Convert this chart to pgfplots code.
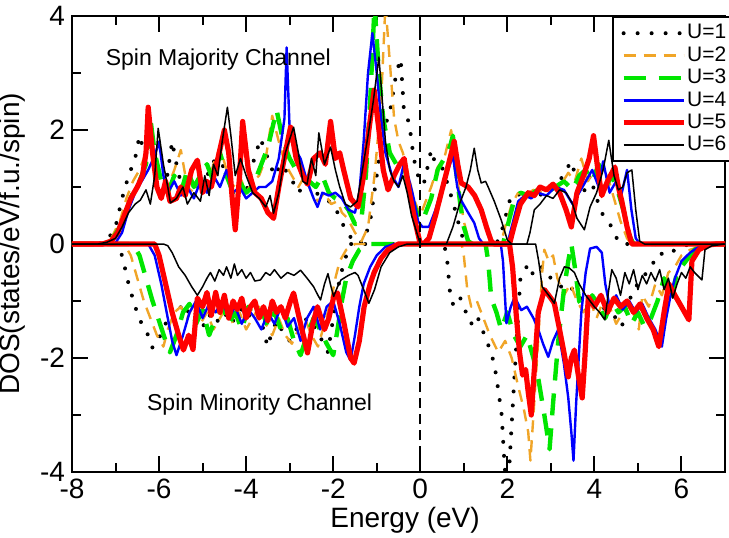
\documentclass[border=0pt]{standalone}
\usepackage{fontspec}
\setmainfont{Liberation Sans}
\usepackage{pgfplots}
\pgfplotsset{compat=1.18}
\definecolor{uorange}{RGB}{240,165,40}
\definecolor{ugreen}{RGB}{0,230,0}
\begin{document}
\begin{tikzpicture}
\useasboundingbox (-36pt,-32.5pt) rectangle (328.5pt,236pt);
\begin{axis}[at={(0,0)}, anchor=south west, scale only axis,
  width=326.5pt, height=228pt,
  xmin=-8, xmax=7, ymin=-4, ymax=4,
  xtick={-8,-6,...,6}, ytick={-4,-2,0,2,4},
  minor x tick num=1, minor y tick num=1,
  tick align=inside, major tick length=8pt, minor tick length=4.5pt,
  tick style={line width=1pt, black},
  axis line style={line width=1pt},
  every axis plot/.append style={line join=round},
  /pgf/number format/assume math mode=true,
  ticklabel style={font=\fontsize{14}{16}\selectfont},
  xlabel={Energy (eV)}, ylabel={DOS(states/eV/f.u./spin)},
  label style={font=\fontsize{14}{16}\selectfont},
  xlabel style={at={(axis description cs:0.51,-0.105)}, anchor=center},
  ylabel style={at={(axis description cs:-0.091,0.5)}, anchor=center},
  legend style={at={(rel axis cs:0.827,1)}, anchor=north west, draw=black, line width=1pt,
    fill=white, inner xsep=4pt, inner ysep=2.5pt, font=\fontsize{10.5}{12}\selectfont,
    nodes={inner sep=0.5pt, text height=7.9pt, text depth=2.3pt}, row sep=0pt},
  legend cell align=left,
  legend image code/.code={\draw[#1] (0pt,0pt) -- (30pt,0pt);},
  /tikz/every even column/.append style={column sep=3pt},
]
% U=1
\addplot[black, line width=2pt, dash pattern=on 0pt off 7pt, line cap=round] coordinates {
(-8,0) (-7.4,0) (-7.2,0.05) (-7.0,0.3) (-6.85,0.8) (-6.7,1.2) (-6.55,1.5) (-6.45,1.9) (-6.3,1.5) (-6.15,1.7) (-6.0,1.2) (-5.85,1.0) (-5.7,1.8) (-5.55,1.2) (-5.4,1.0) (-5.2,1.1) (-5.0,0.9) (-4.85,1.3) (-4.7,1.5) (-4.55,1.4) (-4.4,1.1) (-4.2,1.0) (-4.0,0.9) (-3.85,1.4) (-3.67,1.85) (-3.5,1.5) (-3.35,1.2) (-3.2,1.4) (-3.0,1.2) (-2.8,0.9) (-2.6,1.1) (-2.4,0.9) (-2.2,0.8) (-2.0,0.7) (-1.9,0.55) (-1.75,0.3) (-1.6,0.12) (-1.45,0.0) (-1.3,0.05) (-1.15,0.4) (-1.0,1.2) (-0.85,2.0) (-0.7,2.3) (-0.55,3.0) (-0.45,3.25) (-0.38,2.4) (-0.25,2.1) (-0.15,1.5) (0.0,1.05) (0.1,1.1) (0.25,1.65) (0.35,1.4) (0.5,1.35) (0.65,1.0) (0.8,0.6) (0.9,0.3) (1.0,0.05) (1.1,0) (1.75,0) (1.9,0.3) (2.05,0.75) (2.2,0.9) (2.4,0.8) (2.6,0.95) (2.8,0.85) (3.0,1.0) (3.2,1.1) (3.35,1.3) (3.47,1.45) (3.6,1.1) (3.75,0.9) (3.9,1.2) (4.05,0.8) (4.2,0.5) (4.4,0.3) (4.56,0.02) (4.7,0) (7,0)};
\addlegendentry{U=1}
\addplot[black, line width=2pt, dash pattern=on 0pt off 7pt, line cap=round, forget plot] coordinates {
(-8,0) (-7.0,0) (-6.85,-0.2) (-6.7,-0.7) (-6.55,-1.1) (-6.4,-1.4) (-6.25,-1.6) (-6.15,-1.82) (-6.0,-1.65) (-5.85,-1.4) (-5.7,-1.15) (-5.55,-1.05) (-5.4,-1.25) (-5.25,-1.1) (-5.1,-1.3) (-4.95,-1.45) (-4.8,-1.2) (-4.65,-1.35) (-4.5,-1.2) (-4.35,-1.4) (-4.2,-1.25) (-4.05,-1.1) (-3.9,-1.3) (-3.75,-1.2) (-3.6,-1.5) (-3.51,-1.8) (-3.44,-1.63) (-3.3,-1.35) (-3.15,-1.55) (-3.0,-1.7) (-2.85,-1.5) (-2.7,-1.35) (-2.55,-1.3) (-2.4,-1.5) (-2.25,-1.7) (-2.12,-1.9) (-2.0,-1.3) (-1.9,-0.8) (-1.76,-0.33) (-1.6,0) (0.55,0) (0.62,-0.3) (0.7,-1.0) (0.8,-1.1) (0.92,-0.95) (1.05,-1.2) (1.17,-1.4) (1.3,-1.25) (1.45,-1.55) (1.6,-1.85) (1.7,-2.1) (1.8,-2.6) (1.87,-3.0) (1.93,-3.8) (2.0,-4.5) (2.15,-2.5) (2.3,-0.6) (2.48,-0.35) (2.6,-0.55) (2.8,-0.4) (3.0,-0.6) (3.24,-0.75) (3.4,-0.7) (3.6,-0.9) (3.8,-1.0) (4.0,-0.95) (4.17,-1.1) (4.35,-1.2) (4.5,-1.3) (4.63,-1.45) (4.75,-1.1) (4.9,-0.8) (5.1,-0.6) (5.3,-0.4) (5.48,-0.16) (5.7,-0.2) (5.85,-0.1) (6.1,-0.02) (6.3,0) (7,0)};
% U=2
\addplot[uorange, line width=1.2pt, dash pattern=on 6pt off 4pt] coordinates {
(-8,0) (-7.3,0) (-7.1,0.1) (-6.9,0.4) (-6.75,0.8) (-6.6,1.1) (-6.45,1.3) (-6.3,1.6) (-6.2,2.1) (-6.1,1.5) (-5.95,1.2) (-5.8,1.0) (-5.65,1.3) (-5.5,1.65) (-5.35,1.0) (-5.2,0.9) (-5.05,1.2) (-4.9,1.0) (-4.75,1.4) (-4.6,1.7) (-4.45,1.3) (-4.3,1.0) (-4.15,1.2) (-4.0,0.9) (-3.85,1.1) (-3.7,1.2) (-3.55,1.5) (-3.4,2.25) (-3.25,1.8) (-3.1,1.4) (-2.95,1.2) (-2.8,1.0) (-2.65,1.2) (-2.5,0.9) (-2.35,0.75) (-2.2,0.9) (-2.05,0.7) (-1.9,0.75) (-1.8,0.55) (-1.67,0.45) (-1.5,0.2) (-1.35,0.05) (-1.2,0.3) (-1.05,1.2) (-0.9,2.5) (-0.8,4.2) (-0.7,3.2) (-0.6,2.2) (-0.5,1.8) (-0.4,1.6) (-0.3,1.3) (-0.15,0.8) (0.0,0.5) (0.1,0.7) (0.25,1.0) (0.4,1.35) (0.55,1.5) (0.71,2.0) (0.8,1.4) (0.9,0.9) (1.0,0.4) (1.1,0.1) (1.2,0) (1.85,0) (1.95,0.3) (2.1,0.7) (2.25,0.9) (2.4,0.85) (2.6,0.95) (2.8,0.9) (3.0,1.0) (3.2,1.0) (3.4,1.25) (3.55,1.1) (3.7,1.5) (3.85,1.1) (4.0,1.3) (4.15,0.9) (4.3,1.2) (4.45,0.8) (4.6,0.4) (4.75,0.1) (4.85,0) (7,0)};
\addlegendentry{U=2}
\addplot[uorange, line width=1.2pt, dash pattern=on 6pt off 4pt, forget plot] coordinates {
(-8,0) (-6.8,0) (-6.65,-0.2) (-6.5,-0.6) (-6.35,-1.0) (-6.2,-1.3) (-6.05,-1.6) (-5.9,-1.8) (-5.8,-1.5) (-5.65,-1.2) (-5.5,-1.1) (-5.35,-1.3) (-5.2,-1.05) (-5.05,-1.4) (-4.9,-1.2) (-4.75,-1.5) (-4.6,-1.3) (-4.45,-1.1) (-4.3,-1.4) (-4.15,-1.2) (-4.0,-1.5) (-3.85,-1.3) (-3.7,-1.1) (-3.55,-1.4) (-3.4,-1.6) (-3.25,-1.3) (-3.1,-1.6) (-2.95,-1.75) (-2.8,-1.5) (-2.65,-1.3) (-2.5,-1.6) (-2.35,-1.8) (-2.2,-1.4) (-2.05,-1.0) (-1.95,-0.6) (-1.85,-0.3) (-1.7,-0.1) (-1.5,0) (0.95,0) (1.0,-0.2) (1.08,-0.8) (1.17,-1.1) (1.3,-1.0) (1.45,-1.3) (1.6,-1.6) (1.79,-1.9) (1.95,-1.7) (2.1,-2.0) (2.25,-2.5) (2.38,-2.9) (2.48,-3.3) (2.53,-3.8) (2.6,-3.0) (2.7,-1.8) (2.8,-0.5) (2.85,-0.1) (2.95,-0.3) (3.05,-0.2) (3.15,-0.6) (3.3,-0.9) (3.45,-0.7) (3.6,-1.0) (3.75,-1.2) (3.9,-1.0) (4.05,-1.3) (4.2,-1.0) (4.35,-1.1) (4.5,-1.4) (4.65,-1.2) (4.8,-1.0) (5.02,-1.5) (5.1,-0.9) (5.25,-1.1) (5.4,-0.7) (5.55,-0.9) (5.7,-0.5) (5.85,-0.4) (6.0,-0.2) (6.2,-0.1) (6.4,-0.05) (6.6,0) (7,0)};
% U=3
\addplot[ugreen, line width=2.2pt, dash pattern=on 11pt off 6.5pt] coordinates {
(-8,0) (-7.3,0) (-7.1,0.05) (-6.9,0.3) (-6.75,0.6) (-6.6,0.9) (-6.45,1.1) (-6.3,1.4) (-6.2,2.2) (-6.1,1.6) (-5.95,1.1) (-5.8,0.9) (-5.65,1.2) (-5.5,0.9) (-5.35,1.3) (-5.2,1.0) (-5.05,1.2) (-4.9,1.4) (-4.75,1.1) (-4.6,1.6) (-4.45,1.2) (-4.3,0.9) (-4.15,1.1) (-4.0,0.9) (-3.85,1.0) (-3.7,1.3) (-3.5,1.7) (-3.3,2.35) (-3.15,1.8) (-3.0,1.5) (-2.85,1.3) (-2.7,1.2) (-2.55,1.1) (-2.4,1.0) (-2.25,1.2) (-2.1,0.9) (-1.95,0.8) (-1.8,0.75) (-1.65,0.6) (-1.5,0.35) (-1.36,0.37) (-1.25,1.2) (-1.15,2.5) (-1.05,4.2) (-0.95,3.0) (-0.85,2.2) (-0.7,1.6) (-0.55,1.4) (-0.4,1.5) (-0.3,1.1) (-0.15,0.7) (0.0,0.4) (0.1,0.5) (0.25,0.8) (0.4,1.3) (0.55,1.5) (0.68,1.7) (0.75,1.9) (0.82,1.3) (0.92,0.7) (1.0,0.3) (1.1,0.05) (1.2,0) (1.9,0) (2.0,0.3) (2.15,0.75) (2.3,0.9) (2.5,0.85) (2.7,0.95) (2.9,0.9) (3.1,1.0) (3.3,1.1) (3.5,0.95) (3.65,1.2) (3.8,1.3) (3.95,1.1) (4.1,1.4) (4.25,1.0) (4.4,1.2) (4.55,0.9) (4.7,0.5) (4.8,0.15) (4.9,0) (7,0)};
\addlegendentry{U=3}
\addplot[ugreen, line width=2.2pt, dash pattern=on 11pt off 6.5pt, forget plot] coordinates {
(-8,0) (-6.6,0) (-6.45,-0.2) (-6.3,-0.6) (-6.15,-1.0) (-6.0,-1.35) (-5.85,-1.7) (-5.75,-1.9) (-5.6,-1.6) (-5.45,-1.2) (-5.3,-1.05) (-5.15,-1.4) (-5.0,-1.15) (-4.85,-1.6) (-4.7,-1.3) (-4.55,-1.05) (-4.4,-1.4) (-4.25,-1.2) (-4.1,-1.5) (-3.95,-1.1) (-3.8,-1.3) (-3.65,-1.15) (-3.5,-1.45) (-3.35,-1.2) (-3.2,-1.5) (-3.05,-1.3) (-2.9,-1.7) (-2.75,-1.95) (-2.6,-1.6) (-2.45,-1.3) (-2.3,-1.5) (-2.15,-1.75) (-2.0,-1.95) (-1.9,-1.5) (-1.8,-1.0) (-1.7,-0.6) (-1.55,-0.3) (-1.4,-0.1) (-1.2,0) (1.5,0) (1.56,-0.3) (1.63,-0.95) (1.75,-1.2) (1.86,-1.5) (2.0,-1.2) (2.15,-1.6) (2.3,-1.8) (2.45,-1.6) (2.6,-2.0) (2.72,-2.4) (2.85,-3.0) (2.97,-3.6) (3.05,-2.8) (3.17,-1.7) (3.3,-0.8) (3.4,-0.3) (3.47,0) (3.55,-0.4) (3.65,-1.0) (3.8,-1.2) (3.95,-0.9) (4.1,-1.1) (4.25,-1.3) (4.4,-1.0) (4.55,-1.2) (4.7,-1.1) (4.85,-1.4) (5.0,-1.2) (5.15,-1.45) (5.3,-1.3) (5.45,-1.0) (5.6,-0.6) (5.75,-1.0) (5.9,-0.5) (6.1,-0.3) (6.3,-0.1) (6.5,-0.03) (6.7,0) (7,0)};
% U=4
\addplot[blue, line width=1.2pt] coordinates {
(-8,0) (-7.3,0) (-7.0,0.02) (-6.85,0.2) (-6.7,0.6) (-6.55,0.9) (-6.4,1.1) (-6.25,1.3) (-6.1,1.55) (-6.0,1.8) (-5.9,1.2) (-5.8,0.9) (-5.65,1.1) (-5.5,0.85) (-5.35,1.0) (-5.2,0.8) (-5.05,1.1) (-4.9,0.9) (-4.75,1.2) (-4.6,1.0) (-4.45,1.3) (-4.3,0.9) (-4.15,1.0) (-4.0,0.8) (-3.85,0.9) (-3.7,1.0) (-3.55,1.0) (-3.4,1.1) (-3.25,1.5) (-3.12,2.2) (-3.07,3.45) (-3.0,2.0) (-2.9,1.7) (-2.75,1.5) (-2.6,1.1) (-2.45,0.8) (-2.36,0.65) (-2.25,0.9) (-2.1,0.85) (-1.95,0.9) (-1.8,0.8) (-1.65,0.6) (-1.5,0.55) (-1.4,0.9) (-1.3,1.8) (-1.2,3.0) (-1.1,3.7) (-1.0,3.0) (-0.9,2.2) (-0.8,1.6) (-0.65,1.2) (-0.5,1.0) (-0.38,1.4) (-0.28,1.2) (-0.15,0.8) (-0.05,0.4) (0.05,0.3) (0.2,0.3) (0.35,0.6) (0.5,1.0) (0.64,1.3) (0.75,1.55) (0.85,1.0) (0.95,0.75) (1.1,0.55) (1.24,0.37) (1.35,0.1) (1.45,0) (2.0,0) (2.1,0.3) (2.25,0.75) (2.4,0.85) (2.55,0.8) (2.7,0.9) (2.9,0.85) (3.1,1.0) (3.3,0.95) (3.5,0.7) (3.65,0.9) (3.8,1.1) (3.95,1.3) (4.1,1.0) (4.2,1.45) (4.35,0.9) (4.5,1.1) (4.6,0.8) (4.75,1.3) (4.85,0.6) (4.95,0.1) (5.05,0) (7,0)};
\addlegendentry{U=4}
\addplot[blue, line width=1.2pt, forget plot] coordinates {
(-8,0) (-6.25,0) (-6.1,-0.2) (-5.95,-0.7) (-5.8,-1.3) (-5.7,-1.7) (-5.6,-1.95) (-5.45,-1.6) (-5.3,-1.2) (-5.15,-1.0) (-5.0,-1.3) (-4.85,-1.05) (-4.7,-1.2) (-4.55,-1.0) (-4.4,-1.3) (-4.25,-1.1) (-4.1,-1.4) (-3.95,-1.15) (-3.8,-1.3) (-3.65,-1.5) (-3.5,-1.2) (-3.35,-1.4) (-3.2,-1.1) (-3.05,-1.45) (-2.9,-1.3) (-2.75,-1.7) (-2.6,-1.3) (-2.45,-1.1) (-2.3,-1.5) (-2.15,-1.1) (-2.0,-1.0) (-1.85,-1.4) (-1.7,-1.9) (-1.6,-2.04) (-1.5,-1.6) (-1.4,-1.1) (-1.3,-0.7) (-1.15,-0.4) (-1.0,-0.2) (-0.8,-0.05) (-0.6,0) (1.85,0) (1.9,-0.3) (1.98,-1.39) (2.08,-1.1) (2.17,-0.93) (2.32,-1.16) (2.45,-1.1) (2.6,-1.3) (2.71,-1.5) (2.82,-1.75) (2.94,-1.98) (3.05,-1.7) (3.17,-1.5) (3.3,-2.1) (3.4,-2.7) (3.47,-3.3) (3.52,-3.8) (3.58,-2.8) (3.7,-1.2) (3.8,-0.5) (3.9,-0.08) (4.05,-0.05) (4.17,-0.15) (4.25,-0.7) (4.35,-1.1) (4.5,-0.9) (4.65,-1.15) (4.8,-1.0) (4.95,-1.2) (5.1,-1.05) (5.25,-1.3) (5.4,-1.5) (5.55,-1.8) (5.65,-1.3) (5.75,-0.9) (5.85,-0.6) (6.0,-0.3) (6.2,-0.15) (6.4,-0.05) (6.6,0) (7,0)};
% U=5
\addplot[red, line width=2.6pt] coordinates {
(-8,0) (-7.3,0) (-7.1,0.05) (-6.95,0.2) (-6.8,0.5) (-6.65,0.8) (-6.5,1.0) (-6.38,1.2) (-6.3,1.6) (-6.25,2.4) (-6.15,1.6) (-6.05,1.0) (-5.95,0.8) (-5.85,1.1) (-5.75,0.75) (-5.6,0.8) (-5.5,1.0) (-5.4,0.85) (-5.25,1.3) (-5.12,1.47) (-5.0,0.9) (-4.9,1.1) (-4.8,1.0) (-4.65,1.5) (-4.5,2.0) (-4.4,1.6) (-4.32,0.8) (-4.25,0.25) (-4.15,1.2) (-4.08,2.15) (-3.95,1.3) (-3.8,0.9) (-3.65,0.8) (-3.5,0.55) (-3.37,0.45) (-3.25,1.0) (-3.1,1.6) (-2.98,2.05) (-2.85,1.5) (-2.7,1.2) (-2.59,1.05) (-2.45,1.5) (-2.3,1.6) (-2.18,1.4) (-2.06,2.15) (-1.95,1.5) (-1.85,1.6) (-1.76,1.3) (-1.6,0.8) (-1.43,0.65) (-1.3,1.2) (-1.18,2.0) (-1.06,2.7) (-0.95,2.0) (-0.85,1.3) (-0.74,0.95) (-0.6,1.2) (-0.47,1.4) (-0.37,1.5) (-0.25,0.9) (-0.12,0.4) (0.0,0.0) (0.1,0.02) (0.2,0.1) (0.35,0.5) (0.5,0.95) (0.65,1.4) (0.78,1.8) (0.86,1.4) (0.94,1.07) (1.1,1.0) (1.25,0.85) (1.4,0.6) (1.52,0.3) (1.63,0.05) (1.7,0) (2.05,0) (2.15,0.3) (2.3,0.7) (2.48,0.9) (2.62,0.85) (2.75,1.0) (2.9,0.95) (3.05,1.05) (3.2,0.9) (3.35,0.6) (3.47,0.3) (3.6,0.9) (3.75,1.2) (3.88,1.5) (3.98,1.9) (4.08,1.3) (4.17,0.85) (4.3,1.1) (4.47,1.35) (4.55,1.0) (4.63,0.75) (4.75,0.3) (4.86,0.0) (7,0)};
\addlegendentry{U=5}
\addplot[red, line width=2.6pt, forget plot] coordinates {
(-8,0) (-6.1,0) (-6.0,-0.2) (-5.85,-0.7) (-5.7,-1.2) (-5.55,-1.6) (-5.44,-1.86) (-5.32,-1.6) (-5.22,-1.85) (-5.12,-0.95) (-5.0,-1.1) (-4.9,-0.85) (-4.8,-1.25) (-4.7,-0.85) (-4.6,-1.2) (-4.5,-0.9) (-4.4,-1.3) (-4.3,-1.0) (-4.2,-1.15) (-4.1,-0.95) (-4.0,-1.3) (-3.9,-1.1) (-3.8,-1.0) (-3.7,-1.3) (-3.6,-1.1) (-3.5,-1.35) (-3.4,-1.0) (-3.3,-1.2) (-3.2,-1.1) (-3.1,-1.3) (-2.98,-1.0) (-2.91,-0.86) (-2.75,-1.4) (-2.59,-1.91) (-2.47,-1.4) (-2.36,-1.1) (-2.2,-1.5) (-2.1,-1.3) (-1.98,-0.9) (-1.9,-0.86) (-1.75,-1.4) (-1.6,-2.0) (-1.52,-2.09) (-1.4,-1.7) (-1.29,-1.1) (-1.15,-0.7) (-1.06,-0.5) (-0.9,-0.25) (-0.74,-0.1) (-0.5,0) (2.05,0) (2.12,-0.4) (2.2,-1.2) (2.28,-1.9) (2.35,-2.3) (2.42,-2.2) (2.48,-2.6) (2.55,-3.0) (2.62,-2.2) (2.71,-1.2) (2.85,-0.8) (3.0,-0.95) (3.08,-1.04) (3.2,-1.5) (3.3,-1.9) (3.4,-2.33) (3.47,-2.0) (3.54,-1.86) (3.63,-2.3) (3.72,-2.7) (3.78,-2.0) (3.86,-0.93) (4.0,-1.1) (4.15,-0.9) (4.3,-1.2) (4.45,-0.95) (4.6,-1.1) (4.75,-1.0) (4.9,-1.2) (5.05,-1.05) (5.2,-1.3) (5.35,-1.5) (5.48,-1.8) (5.6,-1.2) (5.71,-0.7) (5.85,-0.9) (6.0,-1.1) (6.17,-1.33) (6.24,-0.3) (6.4,-0.1) (6.6,-0.02) (6.8,0) (7,0)};
% U=6
\addplot[black, line width=0.75pt] coordinates {
(-8,0) (-7.4,0) (-7.2,0.03) (-7.0,0.1) (-6.85,0.3) (-6.7,0.55) (-6.55,0.7) (-6.43,0.77) (-6.3,0.95) (-6.2,0.7) (-6.1,1.2) (-6.02,2.03) (-5.9,1.4) (-5.8,1.0) (-5.74,0.72) (-5.6,0.8) (-5.45,1.0) (-5.35,0.7) (-5.2,0.9) (-5.05,0.75) (-4.95,1.2) (-4.85,0.85) (-4.75,1.4) (-4.65,1.2) (-4.55,1.8) (-4.43,2.4) (-4.35,1.9) (-4.25,1.2) (-4.13,1.5) (-4.0,1.2) (-3.85,0.9) (-3.7,0.8) (-3.55,0.65) (-3.45,0.85) (-3.37,0.54) (-3.25,0.9) (-3.1,1.6) (-2.91,2.05) (-2.8,1.6) (-2.7,1.1) (-2.6,1.05) (-2.5,1.5) (-2.4,1.2) (-2.33,1.95) (-2.2,1.4) (-2.06,1.7) (-1.95,1.3) (-1.85,1.0) (-1.72,0.7) (-1.6,0.65) (-1.45,0.75) (-1.35,1.2) (-1.2,1.9) (-1.08,2.5) (-0.95,3.28) (-0.87,2.5) (-0.8,1.8) (-0.7,1.3) (-0.6,1.1) (-0.5,1.0) (-0.4,1.2) (-0.3,0.9) (-0.2,0.5) (-0.1,0.25) (0.0,0.0) (0.6,0) (0.75,0.3) (0.9,0.7) (1.05,1.0) (1.15,1.3) (1.24,1.68) (1.32,1.3) (1.4,1.07) (1.5,1.1) (1.56,1.0) (1.7,0.75) (1.86,0.42) (2.0,0.07) (2.1,0) (2.45,0) (2.52,0.2) (2.62,0.6) (2.75,0.7) (2.9,0.85) (3.05,0.8) (3.2,0.95) (3.35,0.9) (3.5,0.7) (3.6,0.45) (3.77,0.25) (3.9,0.65) (4.05,0.9) (4.2,1.3) (4.33,1.82) (4.45,1.2) (4.55,0.95) (4.65,1.0) (4.75,1.25) (4.86,1.3) (4.95,0.6) (5.04,0.05) (5.15,0) (7,0)};
\addlegendentry{U=6}
\addplot[black, line width=0.75pt, forget plot] coordinates {
(-8,0) (-5.9,0) (-5.8,-0.03) (-5.7,-0.15) (-5.55,-0.4) (-5.4,-0.55) (-5.25,-0.75) (-5.12,-0.9) (-5.0,-0.75) (-4.9,-0.6) (-4.82,-0.5) (-4.72,-0.65) (-4.62,-0.45) (-4.52,-0.55) (-4.45,-0.4) (-4.35,-0.6) (-4.27,-0.35) (-4.2,-0.55) (-4.1,-0.45) (-4.0,-0.6) (-3.9,-0.5) (-3.8,-0.65) (-3.67,-0.63) (-3.55,-0.5) (-3.45,-0.55) (-3.35,-0.45) (-3.2,-0.6) (-3.05,-0.5) (-2.9,-0.55) (-2.75,-0.46) (-2.6,-0.6) (-2.45,-0.75) (-2.35,-0.9) (-2.29,-0.98) (-2.2,-0.7) (-2.12,-0.52) (-2.05,-0.75) (-1.99,-0.92) (-1.9,-0.75) (-1.82,-0.63) (-1.65,-0.55) (-1.5,-0.5) (-1.43,-0.55) (-1.3,-0.8) (-1.18,-1.04) (-1.05,-0.8) (-0.9,-0.4) (-0.7,-0.15) (-0.5,-0.05) (-0.3,0) (2.65,0) (2.72,-0.3) (2.8,-0.75) (2.9,-0.85) (3.0,-0.95) (3.08,-1.04) (3.2,-0.6) (3.31,-0.4) (3.42,-0.42) (3.54,-0.5) (3.65,-0.7) (3.8,-0.9) (3.9,-1.0) (4.0,-1.1) (4.12,-1.2) (4.24,-1.33) (4.33,-0.8) (4.4,-0.45) (4.5,-0.6) (4.6,-0.9) (4.7,-0.5) (4.8,-0.7) (4.9,-0.45) (5.0,-0.8) (5.1,-0.55) (5.2,-0.7) (5.3,-0.5) (5.4,-0.65) (5.5,-0.45) (5.6,-0.8) (5.7,-0.6) (5.8,-0.95) (5.9,-0.7) (6.0,-0.5) (6.1,-0.6) (6.2,-0.4) (6.3,-0.5) (6.47,-0.63) (6.54,-0.1) (6.7,-0.03) (7,0)};
% Fermi level
\addplot[black, line width=0.9pt, dash pattern=on 5pt off 3pt, forget plot] coordinates {(0,-4) (0,4)};
\node[font=\fontsize{11.5}{13}\selectfont] at (axis cs:-4.64,3.23) {Spin Majority Channel};
\node[font=\fontsize{11.5}{13}\selectfont] at (axis cs:-3.69,-2.82) {Spin Minority Channel};
\end{axis}
\end{tikzpicture}
\end{document}
